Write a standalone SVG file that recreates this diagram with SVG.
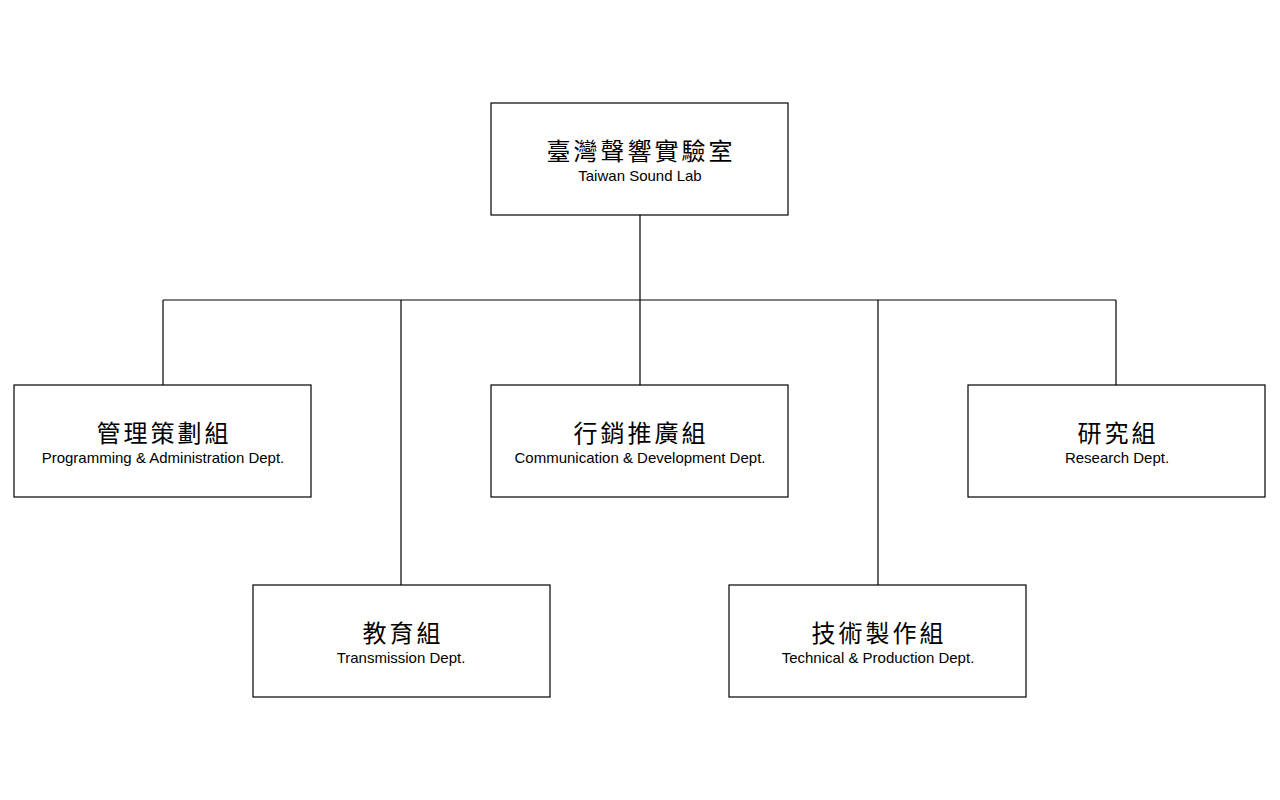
<svg xmlns="http://www.w3.org/2000/svg" width="1280" height="800" viewBox="0 0 1280 800">
<style>
rect{fill:#fff;stroke:#000;stroke-width:1.2}
.c{stroke:#000;stroke-width:1.2;fill:none}
.zh{font-family:"Noto Sans CJK TC","Noto Sans",sans-serif;font-size:24px;letter-spacing:3px;text-anchor:middle;fill:#000}
.en{font-family:"Liberation Sans",Arial,sans-serif;font-size:15px;text-anchor:middle;fill:#000}
</style>
<rect width="1280" height="800" style="stroke:none"/>
<g id="connectors">
<path class="c" d="M640 215V300M163 300H1116M163 300V385M401 300V585M640 300V385M878 300V585M1116 300V385"/>
</g>
<g id="lab"><rect x="491" y="103" width="297" height="112"/><text class="zh" x="641" y="160">臺灣聲響實驗室</text><text class="en" x="640" y="181">Taiwan Sound Lab</text></g>
<g id="admin"><rect x="14" y="385" width="297" height="112"/><text class="zh" x="164" y="442">管理策劃組</text><text class="en" x="163" y="463">Programming &amp; Administration Dept.</text></g>
<g id="comm"><rect x="491" y="385" width="297" height="112"/><text class="zh" x="641" y="442">行銷推廣組</text><text class="en" x="640" y="463">Communication &amp; Development Dept.</text></g>
<g id="research"><rect x="968" y="385" width="297" height="112"/><text class="zh" x="1118" y="442">研究組</text><text class="en" x="1117" y="463">Research Dept.</text></g>
<g id="edu"><rect x="253" y="585" width="297" height="112"/><text class="zh" x="403" y="642">教育組</text><text class="en" x="401" y="663">Transmission Dept.</text></g>
<g id="tech"><rect x="729" y="585" width="297" height="112"/><text class="zh" x="879" y="642">技術製作組</text><text class="en" x="878" y="663">Technical &amp; Production Dept.</text></g>
</svg>
